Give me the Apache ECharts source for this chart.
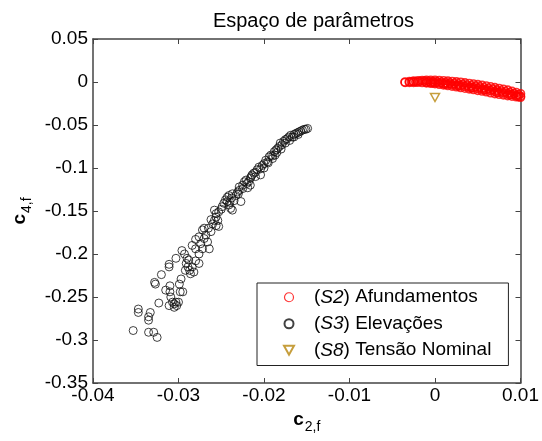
<!DOCTYPE html>
<html>
<head>
<meta charset="utf-8">
<script src="https://cdn.jsdelivr.net/npm/echarts@6/dist/echarts.min.js"></script>
<style>
  html, body { margin: 0; padding: 0; background: #fff; }
  #chart { width: 542px; height: 441px; }
</style>
</head>
<body>
<div id="chart"></div>
<script>
// Axis ticks
const xTicks = [-0.04, -0.03, -0.02, -0.01, 0, 0.01];
const yTicks = [0.05, 0, -0.05, -0.1, -0.15, -0.2, -0.25, -0.3, -0.35];

// Series names
const seriesNames = ['(S2) Afundamentos', '(S3) Elevações', '(S8) Tensão Nominal'];

// (S2) sags: [c2f, c4f]
const afundamentos = [
  // upper edge of the cloud
  [-0.0035, 0.0000], [-0.0030, 0.0005], [-0.0025, 0.0010], [-0.0020, 0.0015], [-0.0015, 0.0018],
  [-0.0010, 0.0020], [-0.0005, 0.0020], [0.0000, 0.0019], [0.0005, 0.0017], [0.0010, 0.0014],
  [0.0015, 0.0010], [0.0020, 0.0006], [0.0025, 0.0002], [0.0030, -0.0003], [0.0035, -0.0010],
  [0.0040, -0.0017], [0.0045, -0.0024], [0.0050, -0.0031], [0.0055, -0.0039], [0.0060, -0.0047],
  [0.0065, -0.0056], [0.0070, -0.0065], [0.0075, -0.0075], [0.0080, -0.0085], [0.0085, -0.0095],
  [0.0090, -0.0108], [0.0095, -0.0122], [0.0100, -0.0136],
  // lower edge of the cloud
  [-0.0035, -0.0005], [-0.0030, -0.0005], [-0.0025, -0.0004], [-0.0020, -0.0003], [-0.0015, -0.0006],
  [-0.0010, -0.0010], [-0.0005, -0.0015], [0.0000, -0.0020], [0.0005, -0.0027], [0.0010, -0.0034],
  [0.0015, -0.0041], [0.0020, -0.0048], [0.0025, -0.0056], [0.0030, -0.0064], [0.0035, -0.0072],
  [0.0040, -0.0080], [0.0045, -0.0088], [0.0050, -0.0097], [0.0055, -0.0105], [0.0060, -0.0114],
  [0.0065, -0.0125], [0.0070, -0.0135], [0.0075, -0.0143], [0.0080, -0.0150], [0.0085, -0.0158],
  [0.0090, -0.0165], [0.0095, -0.0172], [0.0100, -0.0178],
  // interior
  [-0.00275, 0.0003], [-0.00175, 0.0008], [-0.00125, 0.0010], [-0.00075, 0.0008], [-0.00025, 0.0005],
  [0.00025, 0.0002], [0.00075, -0.0003], [0.00125, -0.0008], [0.00175, -0.0013], [0.00225, -0.0018],
  [0.00275, -0.0024], [0.00325, -0.0030], [0.00375, -0.0037], [0.00425, -0.0044], [0.00475, -0.0051],
  [0.00525, -0.0059], [0.00575, -0.0067], [0.00625, -0.0076], [0.00675, -0.0085], [0.00725, -0.0095],
  [0.00775, -0.0104], [0.00825, -0.0114], [0.00875, -0.0124], [0.00925, -0.0135], [0.00975, -0.0148],
  [-0.0010, -0.0003], [-0.0005, -0.0005], [0.0000, -0.0008], [0.0005, -0.0012], [0.0010, -0.0018],
  [0.0015, -0.0024], [0.0020, -0.0030], [0.0025, -0.0037], [0.0030, -0.0044], [0.0035, -0.0051],
  [0.0040, -0.0058], [0.0045, -0.0066], [0.0050, -0.0074], [0.0055, -0.0082], [0.0060, -0.0091],
  [0.0065, -0.0100], [0.0070, -0.0110], [0.0075, -0.0119], [0.0080, -0.0128], [0.0085, -0.0137],
  [0.0090, -0.0146], [0.0095, -0.0156], [0.0100, -0.0165],
  [-0.00225, 0.0002], [-0.00025, -0.0010], [0.00125, -0.0026], [0.00275, -0.0045], [0.00425, -0.0068],
  [0.00575, -0.0092], [0.00725, -0.0122], [0.00875, -0.0150], [0.00975, -0.0170]
];

// (S3) swells: [c2f, c4f]
const elevacoes = [
  [-0.0353, -0.289], [-0.0347, -0.264], [-0.0347, -0.268], [-0.0333, -0.268], [-0.0335, -0.273],
  [-0.0335, -0.277], [-0.0335, -0.291], [-0.0329, -0.291], [-0.0325, -0.297], [-0.0328, -0.233],
  [-0.0327, -0.235], [-0.0320, -0.224], [-0.0323, -0.257], [-0.0311, -0.212], [-0.0311, -0.215],
  [-0.0303, -0.205], [-0.0315, -0.242], [-0.0310, -0.237], [-0.0311, -0.260], [-0.0307, -0.256],
  [-0.0305, -0.258], [-0.0303, -0.256], [-0.0302, -0.260], [-0.0305, -0.262], [-0.0300, -0.256],
  [-0.0309, -0.250], [-0.0310, -0.244], [-0.0298, -0.244], [-0.0295, -0.244], [-0.0299, -0.235],
  [-0.0297, -0.229], [-0.0296, -0.196], [-0.0293, -0.200], [-0.0291, -0.211], [-0.0289, -0.215],
  [-0.0292, -0.219], [-0.0288, -0.207], [-0.0287, -0.219], [-0.0286, -0.223], [-0.0284, -0.215],
  [-0.0282, -0.221], [-0.0284, -0.190], [-0.0280, -0.194], [-0.0276, -0.211], [-0.0276, -0.200],
  [-0.0272, -0.194], [-0.0274, -0.188], [-0.0276, -0.180], [-0.0272, -0.172], [-0.0270, -0.182],
  [-0.0268, -0.178], [-0.0266, -0.186], [-0.0264, -0.194], [-0.0262, -0.174], [-0.0265, -0.170],
  [-0.0260, -0.165], [-0.0258, -0.161], [-0.0256, -0.157], [-0.0256, -0.167], [-0.0253, -0.168],
  [-0.0254, -0.161], [-0.0258, -0.149], [-0.0256, -0.153], [-0.0253, -0.151], [-0.0249, -0.145],
  [-0.0247, -0.141], [-0.0245, -0.137], [-0.0243, -0.139], [-0.0241, -0.143], [-0.0239, -0.147],
  [-0.0237, -0.149], [-0.0243, -0.134], [-0.0241, -0.132], [-0.0237, -0.130], [-0.0238, -0.135],
  [-0.0233, -0.132], [-0.0231, -0.128], [-0.0229, -0.126], [-0.0227, -0.139], [-0.0229, -0.122],
  [-0.0225, -0.120], [-0.0223, -0.116], [-0.0221, -0.114], [-0.0218, -0.116], [-0.0216, -0.112],
  [-0.0214, -0.108], [-0.0219, -0.123], [-0.0216, -0.120], [-0.0212, -0.106], [-0.0210, -0.110],
  [-0.0208, -0.102], [-0.0206, -0.099], [-0.0204, -0.101], [-0.0202, -0.097], [-0.0200, -0.095],
  [-0.0204, -0.108], [-0.0198, -0.091], [-0.0196, -0.093], [-0.0194, -0.087], [-0.0192, -0.085],
  [-0.0190, -0.089], [-0.0188, -0.081], [-0.0186, -0.079], [-0.0187, -0.085], [-0.0184, -0.077],
  [-0.0182, -0.075], [-0.0181, -0.071], [-0.0179, -0.073], [-0.0177, -0.069], [-0.0175, -0.067],
  [-0.0173, -0.066], [-0.0171, -0.064], [-0.0169, -0.062], [-0.0167, -0.064], [-0.0165, -0.061],
  [-0.0163, -0.060], [-0.0161, -0.059], [-0.0159, -0.058], [-0.0157, -0.057], [-0.0155, -0.056],
  [-0.0153, -0.055], [-0.0151, -0.055], [-0.0149, -0.054],
  [-0.0200, -0.100], [-0.0195, -0.094], [-0.0190, -0.086], [-0.0185, -0.082], [-0.0180, -0.078],
  [-0.0175, -0.071], [-0.0170, -0.068], [-0.0165, -0.064], [-0.0160, -0.061], [-0.0210, -0.105],
  [-0.0215, -0.110], [-0.0220, -0.118], [-0.0225, -0.124], [-0.0230, -0.130], [-0.0235, -0.138],
  [-0.0240, -0.140], [-0.0250, -0.148], [-0.0262, -0.160], [-0.0270, -0.170], [-0.0280, -0.183],
  [-0.0290, -0.205], [-0.0280, -0.208]
];

// (S8) nominal voltage
const tensaoNominal = [[0.0000, -0.018]];

const FONT = 'Liberation Sans, Arial, sans-serif';
const AXIS_COLOR = '#444';

const fmt = v => String(parseFloat(v.toFixed(3)));

const xStep = +(xTicks[1] - xTicks[0]).toFixed(3);
const yStep = +(yTicks[0] - yTicks[1]).toFixed(3);

const axisCommon = {
  type: 'value',
  splitLine: { show: false },
  axisLine: { show: true, onZero: false, lineStyle: { color: AXIS_COLOR, width: 1.5 } },
  axisTick: { show: true, inside: true, length: 5, lineStyle: { color: AXIS_COLOR, width: 1 } }
};

const xRange = { min: Math.min(...xTicks), max: Math.max(...xTicks), interval: xStep };
const yRange = { min: Math.min(...yTicks), max: Math.max(...yTicks), interval: yStep };

const nameRich = {
  c: { fontFamily: FONT, fontWeight: 'bold', fontSize: 19, color: '#000', verticalAlign: 'top', padding: [0, 1, 5, 0] },
  s: { fontFamily: FONT, fontSize: 14, color: '#000', verticalAlign: 'bottom' }
};

const chart = echarts.init(document.getElementById('chart'), null, { renderer: 'canvas' });

chart.setOption({
  backgroundColor: '#fff',
  animation: false,
  title: {
    text: 'Espaço de parâmetros',
    left: 308.5,
    textAlign: 'center',
    top: 6,
    textStyle: { fontFamily: FONT, fontSize: 20, fontWeight: 'normal', color: '#000' }
  },
  grid: { left: 93, right: 18, top: 39, bottom: 58, containLabel: false },
  xAxis: [
    Object.assign({}, axisCommon, xRange, {
      position: 'bottom',
      name: '{c|c}{s|2,f}',
      nameLocation: 'middle',
      nameGap: 18,
      nameTextStyle: { rich: nameRich },
      axisLabel: { show: true, margin: 3, color: '#000', fontFamily: FONT, fontSize: 19, formatter: fmt }
    }),
    Object.assign({}, axisCommon, xRange, {
      position: 'top',
      axisLabel: { show: false }
    })
  ],
  yAxis: [
    Object.assign({}, axisCommon, yRange, {
      position: 'left',
      name: '{c|c}{s|4,f}',
      nameLocation: 'middle',
      nameRotate: 90,
      nameGap: 59,
      nameTextStyle: { rich: nameRich },
      axisLabel: { show: true, margin: 5, color: '#000', fontFamily: FONT, fontSize: 19, formatter: fmt }
    }),
    Object.assign({}, axisCommon, yRange, {
      position: 'right',
      axisLabel: { show: false }
    })
  ],
  legend: {
    orient: 'vertical',
    left: 257,
    top: 283,
    padding: [4, 17, 5, 26],
    itemGap: 6,
    itemWidth: 10,
    itemHeight: 9,
    symbolRotate: 0,
    backgroundColor: '#fff',
    borderColor: '#222',
    borderWidth: 1,
    borderRadius: 0,
    textStyle: {
      fontFamily: FONT, fontSize: 19, color: '#000', lineHeight: 20.5,
      rich: {
        sp: { width: 15 },
        i: { fontFamily: FONT, fontSize: 19, fontStyle: 'italic', color: '#000' }
      }
    },
    formatter: name => '{sp| }' + name.replace(/\((S\d)\)/, '({i|$1})'),
    data: [
      { name: seriesNames[0], itemStyle: { borderWidth: 1.2 } },
      { name: seriesNames[1] },
      { name: seriesNames[2], icon: 'path://M0,0 L10,0 L5,9 Z' }
    ]
  },
  series: [
    {
      name: seriesNames[0],
      type: 'scatter',
      xAxisIndex: 0, yAxisIndex: 0,
      symbol: 'circle',
      symbolSize: 8,
      itemStyle: { color: 'rgba(255,0,0,0)', borderColor: '#ff0000', borderWidth: 1.6 },
      data: afundamentos,
      z: 3
    },
    {
      name: seriesNames[1],
      type: 'scatter',
      xAxisIndex: 0, yAxisIndex: 0,
      symbol: 'circle',
      symbolSize: 8,
      itemStyle: { color: 'rgba(0,0,0,0)', borderColor: '#111', borderWidth: 1 },
      data: elevacoes,
      z: 3
    },
    {
      name: seriesNames[2],
      type: 'scatter',
      xAxisIndex: 0, yAxisIndex: 0,
      symbol: 'triangle',
      symbolRotate: 180,
      symbolSize: [9, 8],
      itemStyle: { color: 'rgba(184,134,11,0)', borderColor: '#b8860b', borderWidth: 1.5 },
      data: tensaoNominal,
      z: 4
    }
  ]
});
</script>
</body>
</html>
